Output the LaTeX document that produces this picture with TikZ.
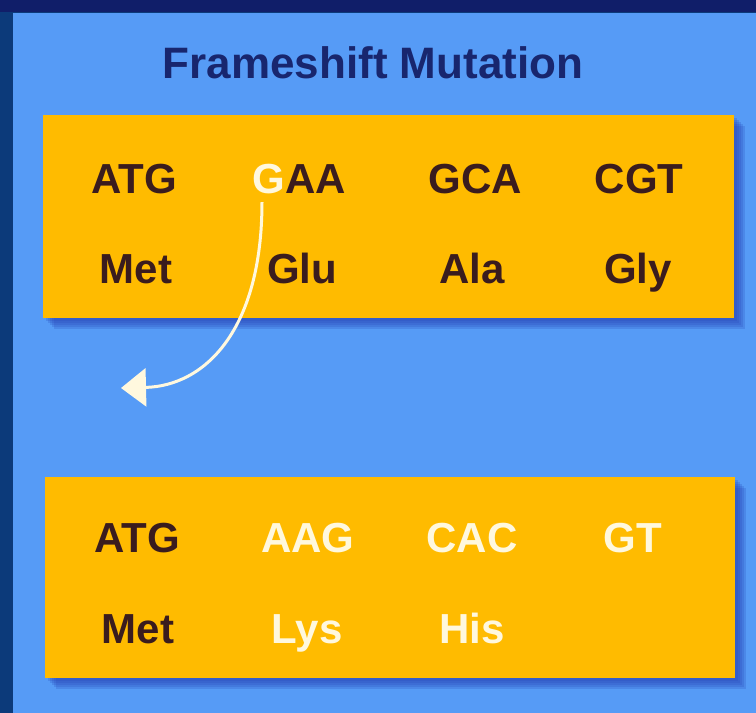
\documentclass[tikz,border=0pt]{standalone}
\usepackage{fontspec}
\setmainfont{Liberation Sans}
\usetikzlibrary{arrows.meta}
\definecolor{navybg}{RGB}{12,58,122}
\definecolor{navytop}{RGB}{16,30,105}
\definecolor{panelblue}{RGB}{86,155,246}
\definecolor{boxamber}{RGB}{255,187,0}
\definecolor{darktxt}{RGB}{58,28,30}
\definecolor{lighttxt}{RGB}{255,248,222}
\definecolor{titlenavy}{RGB}{24,38,110}
\definecolor{shadowblue}{RGB}{40,70,185}
\tikzset{
  codon/.style={anchor=base, font=\fontsize{42}{46}\selectfont\bfseries, text=darktxt, inner sep=0pt},
  codonlight/.style={codon, text=lighttxt},
  amberbox/.style={fill=boxamber, draw=none},
  shade1/.style={fill=shadowblue, opacity=0.22, draw=none},
}
\begin{document}
\begin{tikzpicture}[x=1pt,y=-1pt]
\useasboundingbox (0,0) rectangle (756,713);
% background
\fill[navybg] (0,0) rectangle (756,713);
\fill[navytop] (0,0) rectangle (756,12);
\fill[panelblue] (13,13) rectangle (756,713);
% title
\node[anchor=base, font=\fontsize{44}{48}\selectfont\bfseries, text=titlenavy, inner sep=0pt] (title) at (373,78) {Frameshift Mutation};
% shadows top box
\foreach \d in {3,5,7,9,11}{
  \fill[shade1] (43+\d,115+\d) rectangle (734+\d,318+\d);
}
\fill[amberbox] (43,115) rectangle (734,318);
% shadows bottom box
\foreach \d in {3,5,7,9,11}{
  \fill[shade1] (45+\d,477+\d) rectangle (735+\d,678+\d);
}
\fill[amberbox] (45,477) rectangle (735,678);
% top box text
\node[codon] (t1) at (134,193) {ATG};
\node[codon] (t2) at (299,193) {\textcolor{lighttxt}{G}AA};
\node[codon] (t3) at (475,193) {GCA};
\node[codon] (t4) at (639,193) {CGT};
\node[codon] (a1) at (136,283) {Met};
\node[codon] (a2) at (302,283) {Glu};
\node[codon] (a3) at (472,283) {Ala};
\node[codon] (a4) at (638,283) {Gly};
% bottom box text
\node[codon] (b1) at (137,552) {ATG};
\node[codonlight] (b2) at (308,552) {AAG};
\node[codonlight] (b3) at (472,552) {CAC};
\node[codonlight] (b4) at (633,552) {GT};
\node[codon] (c1) at (138,643) {Met};
\node[codonlight] (c2) at (307,643) {Lys};
\node[codonlight] (c3) at (472,643) {His};
% arrow
\coordinate (gsrc) at (262,202);
\coordinate (gdst) at (121,388);
\draw[lighttxt, line width=3pt, -{Triangle[width=38pt,length=25pt]}]
  (gsrc) .. controls (262,330) and (205,386) .. (gdst);
\end{tikzpicture}
\end{document}
